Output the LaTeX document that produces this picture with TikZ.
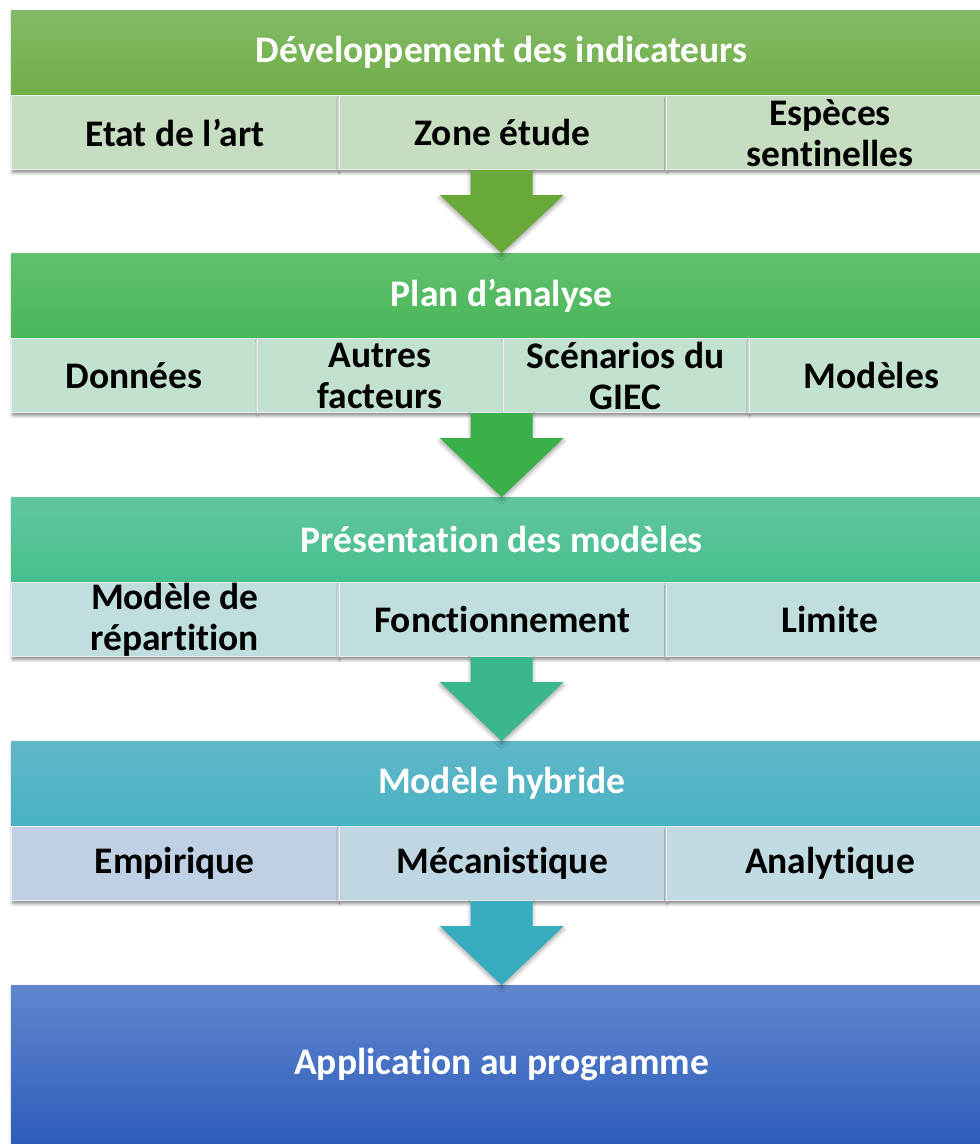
\documentclass[tikz,border=0pt]{standalone}
\usepackage{fontspec}
\setmainfont{Carlito}[Ligatures=NoCommon]
\usetikzlibrary{positioning,%
                calc,%
                shadows.blur}

\definecolor{devTop}{HTML}{84BA67}
\definecolor{devBot}{HTML}{6FAE47}
\definecolor{devCell}{HTML}{C6DDC1}
\definecolor{devArr}{HTML}{68A93A}
\definecolor{planTop}{HTML}{62C06E}
\definecolor{planBot}{HTML}{49B759}
\definecolor{planCell}{HTML}{C2E1CF}
\definecolor{planArr}{HTML}{3AB04A}
\definecolor{presTop}{HTML}{62C69E}
\definecolor{presBot}{HTML}{47BF8F}
\definecolor{presCell}{HTML}{BFDEDD}
\definecolor{presArr}{HTML}{3BB88A}
\definecolor{hybTop}{HTML}{5FB7C7}
\definecolor{hybBot}{HTML}{48B2C4}
\definecolor{hybCellA}{HTML}{BFD0E4}
\definecolor{hybCellB}{HTML}{BFD7E3}
\definecolor{hybCellC}{HTML}{C0DCE2}
\definecolor{hybArr}{HTML}{35ADBF}
\definecolor{appTop}{HTML}{6086CF}
\definecolor{appBot}{HTML}{2D5DBA}

\tikzset{
  boxshadow/.style={blur shadow={shadow xshift=1pt,shadow yshift=-3pt,%
                    shadow blur radius=3pt,shadow opacity=45}},
  header/.style={rectangle,anchor=north west,minimum width=981pt,%
                 minimum height=85pt,inner sep=0pt,text=white,boxshadow,%
                 font=\bfseries\fontsize{37.5}{41}\selectfont},
  cell/.style={rectangle,minimum height=74pt,inner sep=0pt,align=center,%
               draw=gray!14,line width=0.6pt,boxshadow,%
               font=\bfseries\fontsize{37.5}{41}\selectfont},
  wide/.style={cell,minimum width=327pt},
  narrow/.style={cell,minimum width=245.25pt}
}

% block arrow from the bottom of one band to the next header
\newcommand{\flowarrow}[3]{%
  \path[blur shadow={shadow xshift=0pt,shadow yshift=-3pt,%
        shadow blur radius=4pt,shadow opacity=35},fill=#3]
    let \p1=(#1.south), \p2=(#2.north) in
    (\x2-31pt,\y1) -- (\x2+31pt,\y1) -- (\x2+31pt,\y1-25pt)
    -- (\x2+62pt,\y1-25pt) -- (\x2,\y2) -- (\x2-62pt,\y1-25pt)
    -- (\x2-31pt,\y1-25pt) -- cycle;}

\begin{document}
\begin{tikzpicture}[x=1pt,y=1pt]
\useasboundingbox (0,0) rectangle (980,-1144);
\clip (0,0) rectangle (980,-1144);

% band 1
\node[header,top color=devTop,bottom color=devBot] (dev) at (11,-10)
  {Développement des indicateurs};
\node[wide,fill=devCell,anchor=north west] (devA) at (dev.south west) {Etat de l’art};
\node[wide,fill=devCell,right=0pt of devA] (devB) {Zone étude};
\node[wide,fill=devCell,right=0pt of devB] (devC) {Espèces\\sentinelles};

% band 2
\node[header,top color=planTop,bottom color=planBot] (plan) at (11,-253)
  {Plan d’analyse};
\node[narrow,fill=planCell,anchor=north west] (planA) at (plan.south west) {Données};
\node[narrow,fill=planCell,right=0pt of planA] (planB) {Autres\\facteurs};
\node[narrow,fill=planCell,right=0pt of planB] (planC) {Scénarios du\\GIEC};
\node[narrow,fill=planCell,right=0pt of planC] (planD) {Modèles};

% band 3
\node[header,top color=presTop,bottom color=presBot] (pres) at (11,-497)
  {Présentation des modèles};
\node[wide,fill=presCell,anchor=north west] (presA) at (pres.south west) {Modèle de\\répartition};
\node[wide,fill=presCell,right=0pt of presA] (presB) {Fonctionnement};
\node[wide,fill=presCell,right=0pt of presB] (presC) {Limite};

% band 4
\node[header,top color=hybTop,bottom color=hybBot] (hyb) at (11,-741)
  {Modèle hybride};
\node[wide,fill=hybCellA,anchor=north west] (hybA) at (hyb.south west) {Empirique};
\node[wide,fill=hybCellB,right=0pt of hybA] (hybB) {Mécanistique};
\node[wide,fill=hybCellC,right=0pt of hybB] (hybC) {Analytique};

% last box
\node[header,minimum height=159pt,top color=appTop,bottom color=appBot] (app) at (11,-985)
  {Application au programme};

\flowarrow{devB}{plan}{devArr}
\flowarrow{planA}{pres}{planArr}
\flowarrow{presB}{hyb}{presArr}
\flowarrow{hybB}{app}{hybArr}
\end{tikzpicture}
\end{document}
